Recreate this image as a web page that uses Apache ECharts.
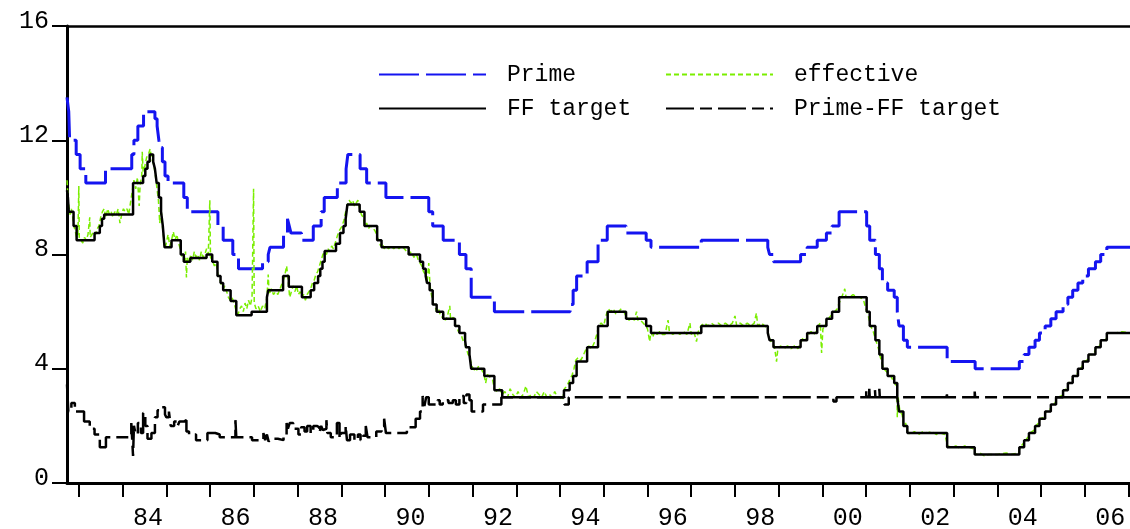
<!DOCTYPE html>
<html>
<head>
<meta charset="utf-8">
<script src="https://cdn.jsdelivr.net/npm/echarts@6/dist/echarts.min.js"></script>
<style>
  html, body { margin: 0; padding: 0; background: #fff; }
  #rates { width: 1130px; height: 529px; }
</style>
</head>
<body>
<div id="rates"></div>
<script>
// year ticks and the even-year labels under the x axis
var tickYears = [1983, 1984, 1985, 1986, 1987, 1988, 1989, 1990, 1991, 1992, 1993, 1994,
  1995, 1996, 1997, 1998, 1999, 2000, 2001, 2002, 2003, 2004, 2005, 2006, 2007];
var labelYears = [1984, 1986, 1988, 1990, 1992, 1994, 1996, 1998, 2000, 2002, 2004, 2006];
var yTicks = [0, 4, 8, 12, 16];

// prime rate, [year, value] at each change
var primeSteps = [
  [1982.73, 13.5], [1982.77, 13.0], [1982.79, 12.0], [1982.94, 11.5], [1983.03, 11.0],
  [1983.16, 10.5], [1983.61, 11.0], [1984.21, 11.5], [1984.26, 12.0], [1984.35, 12.5],
  [1984.48, 13.0], [1984.74, 12.75], [1984.79, 12.5], [1984.83, 12.0], [1984.86, 11.75],
  [1984.91, 11.25], [1984.97, 10.75], [1985.04, 10.5], [1985.4, 10.0], [1985.48, 9.5],
  [1986.18, 9.0], [1986.3, 8.5], [1986.52, 8.0], [1986.65, 7.5], [1987.2, 7.75],
  [1987.33, 8.0], [1987.37, 8.25], [1987.68, 8.75], [1987.77, 9.25], [1987.81, 9.0],
  [1987.85, 8.75], [1988.09, 8.5], [1988.36, 9.0], [1988.54, 9.5], [1988.61, 10.0],
  [1988.91, 10.5], [1989.11, 11.0], [1989.15, 11.5], [1989.43, 11.0], [1989.58, 10.5],
  [1990.02, 10.0], [1991.0, 9.5], [1991.09, 9.0], [1991.33, 8.5], [1991.7, 8.0],
  [1991.85, 7.5], [1991.97, 6.5], [1992.5, 6.0], [1994.23, 6.25], [1994.3, 6.75],
  [1994.38, 7.25], [1994.62, 7.75], [1994.87, 8.5], [1995.08, 9.0], [1995.51, 8.75],
  [1995.97, 8.5], [1996.08, 8.25], [1997.23, 8.5], [1998.75, 8.25], [1998.79, 8.0],
  [1998.88, 7.75], [1999.5, 8.0], [1999.65, 8.25], [1999.88, 8.5], [2000.09, 8.75],
  [2000.22, 9.0], [2000.38, 9.5], [2001.01, 9.0], [2001.08, 8.5], [2001.21, 8.0],
  [2001.3, 7.5], [2001.37, 7.0], [2001.49, 6.75], [2001.64, 6.5], [2001.71, 6.0],
  [2001.75, 5.5], [2001.85, 5.0], [2001.94, 4.75], [2002.85, 4.25], [2003.49, 4.0],
  [2004.5, 4.25], [2004.61, 4.5], [2004.72, 4.75], [2004.86, 5.0], [2004.96, 5.25],
  [2005.09, 5.5], [2005.22, 5.75], [2005.34, 6.0], [2005.5, 6.25], [2005.61, 6.5],
  [2005.72, 6.75], [2005.84, 7.0], [2005.95, 7.25], [2006.08, 7.5], [2006.24, 7.75],
  [2006.36, 8.0], [2006.5, 8.25], [2007.1, 8.25]
];

// fed funds target, [year, value] at each change
var ffTargetSteps = [
  [1982.73, 10.25], [1982.75, 10.0], [1982.77, 9.5], [1982.88, 9.0], [1982.95, 8.5],
  [1983.36, 8.75], [1983.48, 9.0], [1983.53, 9.25], [1983.58, 9.4], [1984.24, 10.5],
  [1984.47, 10.75], [1984.52, 11.0], [1984.57, 11.25], [1984.62, 11.5], [1984.7, 11.25],
  [1984.74, 11.0], [1984.78, 10.5], [1984.83, 10.0], [1984.88, 9.5], [1984.92, 9.0],
  [1984.96, 8.25], [1985.12, 8.5], [1985.33, 8.0], [1985.4, 7.75], [1985.55, 7.875],
  [1985.92, 8.0], [1986.05, 7.75], [1986.17, 7.25], [1986.24, 7.0], [1986.3, 6.75],
  [1986.47, 6.375], [1986.6, 5.875], [1986.95, 6.0], [1987.3, 6.5], [1987.33, 6.75],
  [1987.67, 7.25], [1987.8, 6.875], [1988.1, 6.5], [1988.3, 6.75], [1988.38, 7.0],
  [1988.47, 7.25], [1988.52, 7.5], [1988.57, 7.75], [1988.62, 8.125], [1988.88, 8.375],
  [1988.97, 8.75], [1989.05, 9.0], [1989.1, 9.25], [1989.14, 9.75], [1989.42, 9.5],
  [1989.53, 9.0], [1989.82, 8.5], [1989.92, 8.25], [1990.54, 8.0], [1990.8, 7.75],
  [1990.87, 7.5], [1990.93, 7.25], [1990.96, 7.0], [1991.02, 6.75], [1991.09, 6.25],
  [1991.18, 6.0], [1991.33, 5.75], [1991.6, 5.5], [1991.7, 5.25], [1991.83, 5.0],
  [1991.85, 4.75], [1991.93, 4.5], [1991.97, 4.0], [1992.27, 3.75], [1992.5, 3.25],
  [1992.68, 3.0], [1994.09, 3.25], [1994.22, 3.5], [1994.3, 3.75], [1994.38, 4.25],
  [1994.62, 4.75], [1994.87, 5.5], [1995.09, 6.0], [1995.51, 5.75], [1995.97, 5.5],
  [1996.08, 5.25], [1997.23, 5.5], [1998.75, 5.25], [1998.79, 5.0], [1998.88, 4.75],
  [1999.5, 5.0], [1999.65, 5.25], [1999.88, 5.5], [2000.09, 5.75], [2000.22, 6.0],
  [2000.38, 6.5], [2001.01, 6.0], [2001.08, 5.5], [2001.21, 5.0], [2001.3, 4.5],
  [2001.37, 4.0], [2001.49, 3.75], [2001.64, 3.5], [2001.71, 3.0], [2001.75, 2.5],
  [2001.85, 2.0], [2001.94, 1.75], [2002.85, 1.25], [2003.48, 1.0], [2004.5, 1.25],
  [2004.61, 1.5], [2004.72, 1.75], [2004.86, 2.0], [2004.96, 2.25], [2005.09, 2.5],
  [2005.22, 2.75], [2005.34, 3.0], [2005.5, 3.25], [2005.61, 3.5], [2005.72, 3.75],
  [2005.84, 4.0], [2005.95, 4.25], [2006.08, 4.5], [2006.24, 4.75], [2006.36, 5.0],
  [2006.5, 5.25], [2007.1, 5.25]
];

// effective fed funds rate
var effectiveRate = [
  [1982.73, 10.6], [1982.75, 10.1], [1982.77, 9.7], [1982.8, 9.4], [1982.83, 9.6],
  [1982.86, 9.3], [1982.89, 9.0], [1982.92, 8.8], [1982.95, 8.6], [1982.98, 8.7],
  [1983.0, 10.4], [1983.01, 8.6], [1983.05, 8.5], [1983.09, 8.4], [1983.13, 8.6],
  [1983.17, 8.5], [1983.21, 8.7], [1983.25, 9.3], [1983.26, 8.6], [1983.3, 8.7],
  [1983.34, 8.8], [1983.38, 8.7], [1983.42, 8.9], [1983.46, 9.0], [1983.5, 9.3],
  [1983.54, 9.5], [1983.58, 9.6], [1983.62, 9.3], [1983.66, 9.6], [1983.7, 9.4],
  [1983.74, 9.5], [1983.78, 9.3], [1983.82, 9.5], [1983.86, 9.4], [1983.9, 9.6],
  [1983.94, 9.1], [1983.98, 9.4], [1984.02, 9.6], [1984.06, 9.5], [1984.1, 9.6],
  [1984.14, 9.4], [1984.18, 9.8], [1984.22, 10.2], [1984.26, 10.6], [1984.3, 10.3],
  [1984.34, 10.7], [1984.38, 9.7], [1984.4, 10.4], [1984.44, 10.8], [1984.45, 11.6],
  [1984.47, 10.9], [1984.51, 11.1], [1984.55, 11.4], [1984.59, 11.5], [1984.63, 11.7],
  [1984.66, 11.4], [1984.7, 11.2], [1984.74, 10.9], [1984.78, 10.4], [1984.82, 9.9],
  [1984.85, 9.1], [1984.88, 9.6], [1984.91, 9.0], [1984.94, 8.6], [1984.97, 8.2],
  [1985.0, 8.4], [1985.04, 8.7], [1985.08, 8.3], [1985.12, 8.5], [1985.16, 8.8],
  [1985.2, 8.5], [1985.24, 8.7], [1985.28, 8.4], [1985.32, 8.2], [1985.36, 7.9],
  [1985.4, 7.8], [1985.44, 8.1], [1985.46, 7.2], [1985.48, 7.9], [1985.52, 7.7],
  [1985.56, 8.0], [1985.6, 7.8], [1985.64, 8.1], [1985.68, 7.9], [1985.72, 8.0],
  [1985.76, 7.8], [1985.8, 8.1], [1985.84, 7.9], [1985.88, 8.0], [1985.92, 8.2],
  [1985.96, 8.0], [1985.995, 9.9], [1986.01, 7.9], [1986.05, 7.8], [1986.1, 7.6],
  [1986.14, 7.7], [1986.18, 7.3], [1986.22, 7.2], [1986.26, 6.9], [1986.3, 6.8],
  [1986.34, 6.9], [1986.38, 6.7], [1986.42, 6.5], [1986.46, 6.4], [1986.5, 6.5],
  [1986.55, 6.3], [1986.6, 6.0], [1986.64, 5.9], [1986.68, 6.1], [1986.72, 6.2],
  [1986.76, 6.0], [1986.8, 6.3], [1986.84, 6.1], [1986.88, 6.4], [1986.92, 6.2],
  [1986.96, 6.5], [1986.995, 10.3], [1987.01, 6.3], [1987.05, 6.1], [1987.1, 6.2],
  [1987.15, 6.0], [1987.2, 6.2], [1987.25, 6.1], [1987.3, 6.5], [1987.33, 7.3],
  [1987.35, 6.6], [1987.4, 6.8], [1987.45, 6.6], [1987.5, 6.7], [1987.55, 6.6],
  [1987.6, 6.8], [1987.65, 7.0], [1987.7, 7.2], [1987.75, 7.6], [1987.78, 7.2],
  [1987.82, 6.5], [1987.86, 6.7], [1987.9, 6.9], [1987.94, 6.7], [1987.98, 6.9],
  [1988.02, 6.6], [1988.06, 6.7], [1988.1, 6.5], [1988.14, 6.6], [1988.18, 6.4],
  [1988.22, 6.6], [1988.26, 6.7], [1988.3, 6.8], [1988.34, 7.0], [1988.38, 7.1],
  [1988.42, 7.3], [1988.46, 7.4], [1988.5, 7.6], [1988.54, 7.8], [1988.58, 8.0],
  [1988.62, 8.1], [1988.66, 8.0], [1988.7, 8.2], [1988.74, 8.1], [1988.78, 8.3],
  [1988.82, 8.2], [1988.86, 8.4], [1988.9, 8.6], [1988.94, 8.8], [1988.98, 8.9],
  [1989.02, 9.0], [1989.06, 9.2], [1989.1, 9.5], [1989.14, 9.7], [1989.18, 9.9],
  [1989.22, 9.8], [1989.26, 9.9], [1989.3, 9.7], [1989.34, 9.8], [1989.38, 9.9],
  [1989.42, 9.6], [1989.46, 9.4], [1989.5, 9.3], [1989.54, 9.0], [1989.58, 9.1],
  [1989.62, 8.9], [1989.66, 9.0], [1989.7, 9.0], [1989.74, 8.9], [1989.78, 8.8],
  [1989.82, 8.6], [1989.86, 8.5], [1989.9, 8.3], [1989.94, 8.4], [1989.98, 8.2],
  [1990.02, 8.3], [1990.08, 8.2], [1990.14, 8.3], [1990.2, 8.2], [1990.26, 8.3],
  [1990.32, 8.2], [1990.38, 8.3], [1990.44, 8.2], [1990.5, 8.1], [1990.54, 8.0],
  [1990.6, 8.1], [1990.66, 7.9], [1990.72, 8.0], [1990.76, 7.8], [1990.8, 7.7],
  [1990.84, 7.6], [1990.88, 7.4], [1990.92, 7.3], [1990.96, 7.0], [1991.0, 7.7],
  [1991.03, 6.9], [1991.06, 6.6], [1991.1, 6.3], [1991.14, 6.2], [1991.18, 6.0],
  [1991.22, 6.1], [1991.26, 5.9], [1991.3, 5.8], [1991.34, 5.9], [1991.38, 5.7],
  [1991.42, 5.8], [1991.48, 6.2], [1991.5, 5.7], [1991.56, 5.8], [1991.62, 5.5],
  [1991.68, 5.3], [1991.74, 5.2], [1991.78, 5.0], [1991.82, 4.9], [1991.86, 4.7],
  [1991.9, 4.5], [1991.94, 4.4], [1991.98, 4.1], [1992.02, 4.0], [1992.08, 3.9],
  [1992.14, 4.1], [1992.2, 4.0], [1992.26, 3.8], [1992.3, 3.5], [1992.34, 3.8],
  [1992.4, 3.7], [1992.46, 3.6], [1992.5, 3.3], [1992.56, 3.2], [1992.62, 3.3],
  [1992.68, 3.1], [1992.74, 3.2], [1992.8, 3.0], [1992.86, 3.3], [1992.92, 3.1],
  [1992.98, 3.0], [1993.04, 3.2], [1993.1, 3.0], [1993.16, 3.1], [1993.22, 3.4],
  [1993.28, 3.0], [1993.34, 3.1], [1993.4, 3.0], [1993.46, 3.2], [1993.52, 3.1],
  [1993.58, 3.0], [1993.64, 3.2], [1993.7, 3.0], [1993.76, 3.1], [1993.82, 3.0],
  [1993.88, 3.2], [1993.94, 3.0], [1994.0, 3.0], [1994.06, 2.9], [1994.1, 3.3],
  [1994.16, 3.4], [1994.22, 3.6], [1994.28, 3.8], [1994.32, 4.0], [1994.36, 4.3],
  [1994.42, 4.4], [1994.48, 4.3], [1994.54, 4.5], [1994.6, 4.7], [1994.66, 4.8],
  [1994.72, 4.7], [1994.78, 4.9], [1994.84, 5.2], [1994.88, 5.5], [1994.94, 5.6],
  [1995.0, 5.5], [1995.04, 5.8], [1995.1, 6.1], [1995.16, 6.0], [1995.22, 6.1],
  [1995.28, 5.9], [1995.34, 6.0], [1995.4, 6.1], [1995.46, 6.0], [1995.52, 5.8],
  [1995.58, 5.7], [1995.64, 5.8], [1995.7, 5.7], [1995.75, 6.0], [1995.78, 5.7],
  [1995.84, 5.7], [1995.9, 5.6], [1995.96, 5.5], [1996.0, 5.4], [1996.05, 4.95],
  [1996.08, 5.3], [1996.12, 5.1], [1996.16, 5.3], [1996.22, 5.2], [1996.28, 5.3],
  [1996.34, 5.2], [1996.4, 5.2], [1996.47, 5.7], [1996.5, 5.3], [1996.58, 5.2],
  [1996.66, 5.3], [1996.74, 5.2], [1996.82, 5.3], [1996.9, 5.2], [1996.97, 5.6],
  [1997.0, 5.2], [1997.06, 5.3], [1997.12, 4.95], [1997.16, 5.3], [1997.22, 5.5],
  [1997.3, 5.6], [1997.38, 5.5], [1997.46, 5.6], [1997.54, 5.5], [1997.62, 5.6],
  [1997.7, 5.5], [1997.78, 5.6], [1997.86, 5.5], [1997.94, 5.6], [1998.0, 5.85],
  [1998.04, 5.5], [1998.12, 5.6], [1998.2, 5.5], [1998.28, 5.6], [1998.36, 5.5],
  [1998.44, 5.6], [1998.49, 5.95], [1998.52, 5.5], [1998.6, 5.6], [1998.68, 5.5],
  [1998.74, 5.4], [1998.78, 5.1], [1998.84, 4.9], [1998.9, 4.8], [1998.95, 4.25],
  [1998.98, 4.7], [1999.04, 4.8], [1999.12, 4.7], [1999.2, 4.8], [1999.28, 4.7],
  [1999.36, 4.8], [1999.44, 4.7], [1999.5, 4.9], [1999.56, 5.1], [1999.62, 5.0],
  [1999.68, 5.2], [1999.74, 5.3], [1999.8, 5.2], [1999.86, 5.3], [1999.9, 5.5],
  [1999.95, 5.6], [1999.98, 4.55], [2000.01, 5.4], [2000.06, 5.5], [2000.1, 5.7],
  [2000.16, 5.8], [2000.22, 5.9], [2000.28, 6.0], [2000.34, 6.1], [2000.38, 6.3],
  [2000.44, 6.5], [2000.51, 6.8], [2000.54, 6.5], [2000.62, 6.5], [2000.7, 6.6],
  [2000.78, 6.5], [2000.86, 6.5], [2000.94, 6.4], [2000.99, 6.1], [2001.04, 5.9],
  [2001.1, 5.5], [2001.16, 5.3], [2001.22, 5.0], [2001.28, 4.7], [2001.34, 4.3],
  [2001.4, 4.0], [2001.46, 3.9], [2001.52, 3.8], [2001.58, 3.7], [2001.64, 3.5],
  [2001.7, 3.4], [2001.71, 2.3], [2001.73, 3.0], [2001.77, 2.5], [2001.82, 2.4],
  [2001.86, 2.0], [2001.9, 2.1], [2001.94, 1.8], [2002.0, 1.7], [2002.1, 1.8],
  [2002.2, 1.7], [2002.3, 1.8], [2002.4, 1.75], [2002.5, 1.8], [2002.6, 1.7],
  [2002.7, 1.75], [2002.8, 1.7], [2002.86, 1.3], [2002.95, 1.25], [2003.05, 1.3],
  [2003.15, 1.2], [2003.25, 1.3], [2003.35, 1.25], [2003.45, 1.2], [2003.5, 1.0],
  [2003.6, 1.05], [2003.7, 0.95], [2003.8, 1.0], [2004.0, 1.0], [2004.2, 1.05],
  [2004.3, 1.0], [2004.48, 1.05], [2004.52, 1.25], [2004.6, 1.4], [2004.63, 1.5],
  [2004.7, 1.6], [2004.74, 1.75], [2004.84, 1.85], [2004.88, 2.0], [2004.94, 2.1],
  [2004.98, 2.25], [2005.06, 2.3], [2005.11, 2.5], [2005.2, 2.55], [2005.24, 2.75],
  [2005.32, 2.8], [2005.36, 3.0], [2005.46, 3.05], [2005.52, 3.25], [2005.59, 3.3],
  [2005.63, 3.5], [2005.7, 3.6], [2005.74, 3.75], [2005.82, 3.8], [2005.86, 4.0],
  [2005.93, 4.05], [2005.97, 4.25], [2006.05, 4.3], [2006.1, 4.5], [2006.2, 4.5],
  [2006.26, 4.75], [2006.34, 4.8], [2006.38, 5.0], [2006.47, 5.0], [2006.52, 5.25],
  [2006.7, 5.25], [2006.85, 5.3], [2007.05, 5.25]
];

// prime minus FF target, [year, value] at each change
var spreadSteps = [
  [1982.73, 3.45], [1982.76, 2.5], [1982.83, 2.8], [1982.91, 2.5], [1983.12, 2.15],
  [1983.25, 1.9], [1983.36, 1.7], [1983.48, 1.25], [1983.62, 1.6], [1984.2, 2.1],
  [1984.24, 0.95], [1984.26, 2.0], [1984.3, 1.7], [1984.35, 2.1], [1984.42, 1.75],
  [1984.47, 2.45], [1984.52, 2.0], [1984.57, 1.55], [1984.66, 1.75], [1984.74, 2.3],
  [1984.8, 2.55], [1984.9, 2.65], [1984.97, 2.4], [1985.0, 2.3], [1985.06, 2.5],
  [1985.1, 2.0], [1985.18, 2.15], [1985.26, 2.0], [1985.3, 2.15], [1985.4, 2.2],
  [1985.46, 1.8], [1985.52, 1.7], [1985.68, 1.5], [1985.94, 1.75], [1986.12, 1.7],
  [1986.22, 1.6], [1986.58, 2.2], [1986.6, 1.6], [1986.96, 1.5], [1987.22, 1.75],
  [1987.26, 1.5], [1987.3, 1.7], [1987.34, 1.45], [1987.38, 1.55], [1987.55, 1.5],
  [1987.68, 1.6], [1987.75, 2.1], [1987.78, 1.9], [1987.82, 2.1], [1987.9, 1.9],
  [1988.02, 1.7], [1988.08, 1.95], [1988.16, 1.8], [1988.22, 2.0], [1988.3, 1.75],
  [1988.36, 2.0], [1988.44, 1.95], [1988.5, 1.75], [1988.54, 2.0], [1988.58, 1.85],
  [1988.62, 1.9], [1988.66, 2.2], [1988.68, 1.75], [1988.76, 1.6], [1988.84, 1.7],
  [1988.9, 2.1], [1988.96, 1.55], [1989.0, 1.75], [1989.1, 2.0], [1989.13, 1.5],
  [1989.2, 1.7], [1989.3, 1.5], [1989.38, 1.7], [1989.44, 1.5], [1989.5, 1.65],
  [1989.56, 2.0], [1989.6, 1.6], [1989.8, 1.8], [1989.92, 2.0], [1989.98, 2.25],
  [1990.02, 1.75], [1990.5, 1.95], [1990.7, 2.25], [1990.8, 2.5], [1990.86, 3.05],
  [1990.9, 2.7], [1990.94, 3.0], [1991.0, 2.75], [1991.2, 2.9], [1991.25, 2.75],
  [1991.32, 2.9], [1991.45, 2.8], [1991.55, 2.9], [1991.62, 2.75], [1991.7, 3.05],
  [1991.8, 2.8], [1991.86, 3.1], [1991.93, 2.9], [1991.98, 2.5], [1992.24, 2.75],
  [1992.66, 3.0], [1994.1, 2.75], [1994.2, 3.0], [2000.25, 2.85], [2000.32, 3.0],
  [2001.0, 3.25], [2001.01, 3.0], [2001.07, 3.3], [2001.08, 3.0], [2001.2, 3.25],
  [2001.21, 3.0], [2001.3, 3.3], [2001.31, 3.0], [2002.84, 3.2], [2002.85, 3.0],
  [2003.48, 3.2], [2003.49, 3.0], [2007.1, 3.0]
];

var FONT = '"Liberation Mono", "Courier New", monospace';

var chart = echarts.init(document.getElementById('rates'), null, { renderer: 'canvas' });

// one legend box per entry, so each sits where the reference puts it
function legendBox(name, left, top) {
  return {
    data: [name],
    left: left,
    top: top,
    itemWidth: 107,
    itemHeight: 14,
    padding: 0,
    selectedMode: false,
    itemStyle: { opacity: 0 },
    textStyle: { fontFamily: FONT, fontSize: 23, color: '#000', padding: [0, 0, 0, 16] }
  };
}

var option = {
  animation: false,
  backgroundColor: '#fff',
  textStyle: { fontFamily: FONT },
  legend: [
    legendBox('Prime', 378, 63),
    legendBox('effective', 665, 63),
    legendBox('FF target', 378, 97),
    legendBox('Prime-FF target', 665, 97)
  ],
  grid: { left: 67, right: 0, top: 26, bottom: 46, containLabel: false, outerBoundsMode: 'none' },
  xAxis: [{
    type: 'value',
    min: 1982.73,
    max: 2007.03,
    axisLine: { show: true, lineStyle: { color: '#000', width: 3 } },
    axisTick: { show: true, inside: false, length: 14, customValues: tickYears, lineStyle: { color: '#000', width: 2 } },
    axisLabel: {
      show: true,
      customValues: labelYears.map(function (y) { return y + 0.58; }),
      formatter: function (v) { return String(Math.floor(v) % 100).padStart(2, '0'); },
      fontFamily: FONT, fontSize: 25, color: '#000', margin: 23
    },
    splitLine: { show: false }
  }, {
    type: 'value',
    position: 'top',
    min: 1982.73,
    max: 2007.03,
    axisLine: { show: true, onZero: false, lineStyle: { color: '#000', width: 2.5 } },
    axisTick: { show: false },
    axisLabel: { show: false },
    splitLine: { show: false }
  }],
  yAxis: {
    type: 'value',
    min: 0,
    max: 16,
    interval: 4,
    axisLine: { show: true, lineStyle: { color: '#000', width: 3 } },
    axisTick: { show: true, inside: false, length: 15, customValues: yTicks, lineStyle: { color: '#000', width: 2 } },
    axisLabel: {
      fontFamily: FONT, fontSize: 25, color: '#000', margin: 18,
      verticalAlign: 'bottom', lineHeight: 10
    },
    splitLine: { show: false }
  },
  series: [
    {
      name: 'Prime', type: 'line', step: 'end', symbol: 'none', data: primeSteps,
      lineStyle: { color: '#1414f0', width: 3, type: [40, 7] }, itemStyle: { color: '#1414f0' }
    },
    {
      name: 'effective', type: 'line', symbol: 'none', data: effectiveRate,
      lineStyle: { color: '#7aee00', width: 1.5, type: [5, 3] }, itemStyle: { color: '#7aee00' }
    },
    {
      name: 'FF target', type: 'line', step: 'end', symbol: 'none', data: ffTargetSteps,
      lineStyle: { color: '#000', width: 2.5, type: 'solid' }, itemStyle: { color: '#000' }
    },
    {
      name: 'Prime-FF target', type: 'line', step: 'end', symbol: 'none', data: spreadSteps,
      lineStyle: { color: '#000', width: 2.5, type: [28, 6, 12, 6] }, itemStyle: { color: '#000' }
    }
  ]
};

chart.setOption(option);
</script>
</body>
</html>
